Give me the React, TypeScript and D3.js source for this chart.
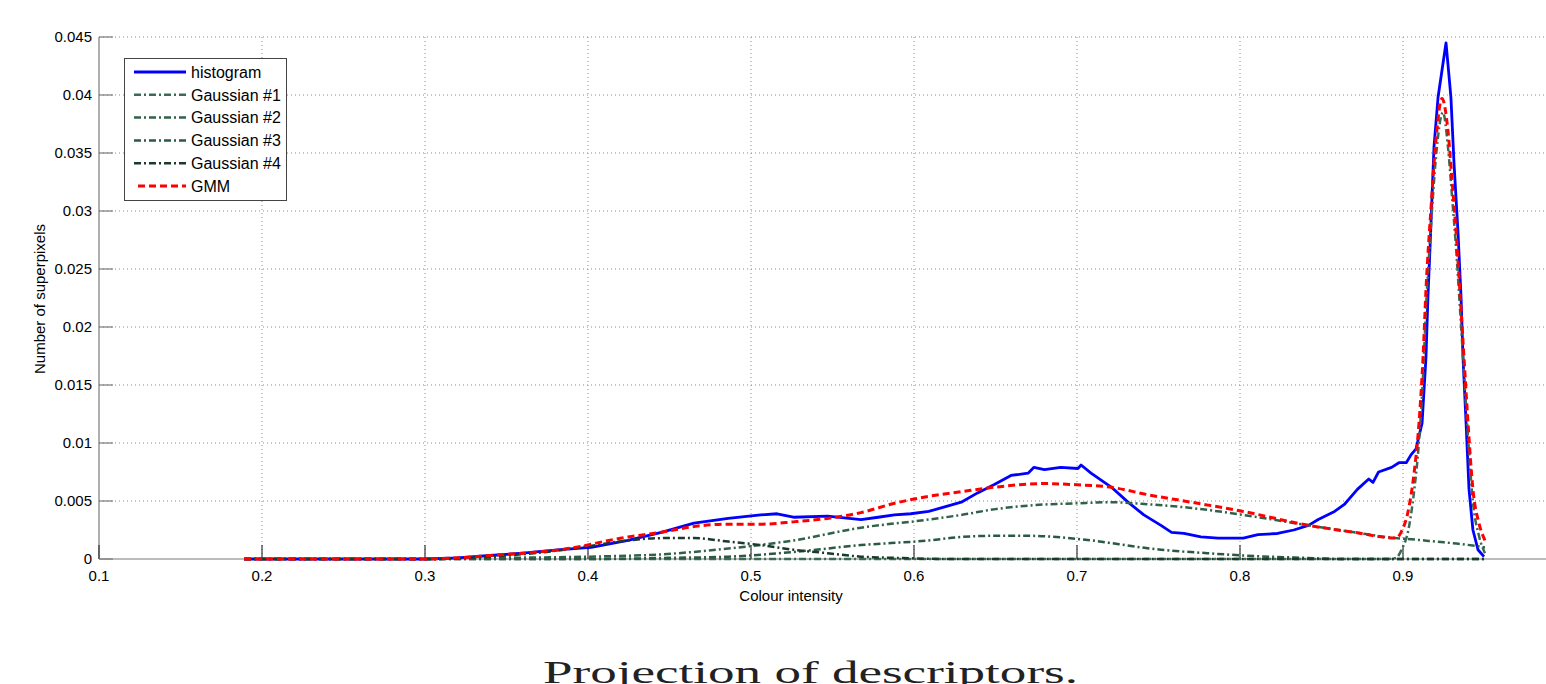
import * as d3 from "d3";
import { useEffect, useRef } from "react";

// colour intensity samples (x) and densities (y)
const histX = [0.189, 0.30, 0.32, 0.34, 0.36, 0.383, 0.402, 0.4245, 0.445, 0.465, 0.486, 0.506, 0.516, 0.526, 0.547, 0.5675, 0.578, 0.588, 0.598, 0.609, 0.629, 0.639, 0.649, 0.6595, 0.670, 0.6736, 0.680, 0.690, 0.7006, 0.7025, 0.7086, 0.721, 0.7313, 0.741, 0.7515, 0.758, 0.7656, 0.776, 0.7865, 0.802, 0.811, 0.823, 0.833, 0.842, 0.848, 0.858, 0.864, 0.872, 0.879, 0.8816, 0.885, 0.893, 0.8975, 0.902, 0.905, 0.908, 0.9117, 0.9141, 0.9153, 0.9166, 0.9178, 0.919, 0.9215, 0.9264, 0.9294, 0.9313, 0.9337, 0.9356, 0.9368, 0.9387, 0.9405, 0.9429, 0.946, 0.9497];
const histY = [0, 0, 0.0001, 0.0003, 0.0005, 0.0008, 0.0010, 0.0016, 0.0023, 0.0031, 0.0035, 0.0038, 0.0039, 0.0036, 0.0037, 0.0034, 0.0036, 0.0038, 0.0039, 0.0041, 0.0049, 0.0057, 0.0064, 0.0072, 0.0074, 0.0079, 0.0077, 0.0079, 0.0078, 0.0081, 0.0074, 0.0062, 0.0049, 0.0038, 0.0029, 0.0023, 0.0022, 0.0019, 0.0018, 0.0018, 0.0021, 0.0022, 0.0025, 0.0029, 0.0034, 0.0041, 0.0047, 0.0060, 0.0069, 0.0066, 0.0075, 0.0079, 0.0083, 0.0083, 0.0090, 0.0095, 0.0117, 0.0174, 0.0226, 0.0269, 0.0312, 0.0355, 0.0398, 0.0445, 0.0398, 0.0341, 0.0283, 0.0226, 0.0174, 0.0117, 0.0060, 0.0025, 0.0008, 0.0002];

// Gaussian #1 - the narrow peak near 0.92
const g1X = [0.189, 0.890, 0.8957, 0.8988, 0.9037, 0.9067, 0.9098, 0.9123, 0.9141, 0.9172, 0.9202, 0.9245, 0.9276, 0.9301, 0.9325, 0.935, 0.9374, 0.9399, 0.9429, 0.9466, 0.9503];
const g1Y = [0, 0, 0.0001, 0.0007, 0.0028, 0.0057, 0.0101, 0.0158, 0.0216, 0.0288, 0.0346, 0.0385, 0.0355, 0.0312, 0.0269, 0.0215, 0.0161, 0.0105, 0.0049, 0.0020, 0.0005];

// Gaussian #2 - broad component around 0.72
const g2X = [0.189, 0.30, 0.35, 0.40, 0.445, 0.486, 0.526, 0.5675, 0.609, 0.629, 0.65, 0.68, 0.70, 0.72, 0.745, 0.77, 0.802, 0.842, 0.87, 0.8957, 0.905, 0.92, 0.935, 0.9503];
const g2Y = [0, 0, 0.0001, 0.0002, 0.0004, 0.0009, 0.0016, 0.0027, 0.0034, 0.0038, 0.0043, 0.0047, 0.0048, 0.0049, 0.0047, 0.0044, 0.0038, 0.0029, 0.0023, 0.0018, 0.0017, 0.0015, 0.0013, 0.0010];

// Gaussian #3 - component around 0.66
const g3X = [0.189, 0.40, 0.45, 0.486, 0.526, 0.5675, 0.609, 0.629, 0.65, 0.67, 0.7025, 0.745, 0.7515, 0.78, 0.802, 0.84, 0.86, 0.9503];
const g3Y = [0, 0, 0.0001, 0.0002, 0.0006, 0.0012, 0.0016, 0.0019, 0.0020, 0.0020, 0.0017, 0.0009, 0.0008, 0.0005, 0.0003, 0.0001, 0, 0];

// Gaussian #4 - component around 0.46
const g4X = [0.189, 0.30, 0.35, 0.38, 0.40, 0.4245, 0.445, 0.465, 0.486, 0.506, 0.526, 0.547, 0.5675, 0.588, 0.62, 0.9503];
const g4Y = [0, 0, 0.0003, 0.0007, 0.0011, 0.0016, 0.0018, 0.0018, 0.0015, 0.0012, 0.0008, 0.0005, 0.0002, 0.0001, 0, 0];

// GMM
const gmmX = [0.189, 0.30, 0.32, 0.34, 0.36, 0.383, 0.4245, 0.445, 0.465, 0.486, 0.506, 0.526, 0.547, 0.5675, 0.588, 0.609, 0.629, 0.65, 0.68, 0.70, 0.72, 0.745, 0.77, 0.802, 0.842, 0.87, 0.8957, 0.8988, 0.9037, 0.9067, 0.9098, 0.9123, 0.9141, 0.9172, 0.9202, 0.9239, 0.9276, 0.9301, 0.9325, 0.935, 0.9374, 0.9399, 0.9429, 0.9466, 0.9503];
const gmmY = [0, 0, 0.0001, 0.0003, 0.0005, 0.0008, 0.0019, 0.0023, 0.0028, 0.0030, 0.0030, 0.0032, 0.0035, 0.0040, 0.0048, 0.0054, 0.0058, 0.0062, 0.0065, 0.0064, 0.0062, 0.0055, 0.0049, 0.0041, 0.0029, 0.0023, 0.0018, 0.0023, 0.0045, 0.0073, 0.0117, 0.0174, 0.0232, 0.0303, 0.0361, 0.0397, 0.0369, 0.0326, 0.0283, 0.0229, 0.0174, 0.0117, 0.0060, 0.0031, 0.0016];

const xTicks = [0.1, 0.2, 0.3, 0.4, 0.5, 0.6, 0.7, 0.8, 0.9];
const yTicks = [0, 0.005, 0.01, 0.015, 0.02, 0.025, 0.03, 0.035, 0.04, 0.045];

const legendNames = ["histogram", "Gaussian #1", "Gaussian #2", "Gaussian #3", "Gaussian #4", "GMM"];

const W = 1546;
const H = 684;
const FONT = "'Liberation Sans', Arial, Helvetica, sans-serif";

function drawChart(svgEl) {
    const svg = d3.select(svgEl);
    svg.selectAll("*").remove();

    const area = { left: 99, bottom: 559, top: 37 };

    const scX = d3.scaleLinear().domain([0.1, 1.0]).range([area.left, area.left + 1630 * 0.9]);
    const scY = d3.scaleLinear().domain([0, 0.045]).range([area.bottom, area.top]);

    svg.append("rect").attr("width", W).attr("height", H).attr("fill", "white");

    // dotted grid
    const grid = svg.append("g")
        .attr("stroke", "#8c8c8c")
        .attr("stroke-width", 1)
        .attr("stroke-dasharray", "1,3");
    xTicks.slice(1).forEach(t => {
        grid.append("line")
            .attr("x1", scX(t)).attr("x2", scX(t))
            .attr("y1", area.top).attr("y2", area.bottom);
    });
    yTicks.slice(1).forEach(t => {
        grid.append("line")
            .attr("x1", area.left).attr("x2", W)
            .attr("y1", scY(t)).attr("y2", scY(t));
    });

    // axes lines + ticks
    const ax = svg.append("g").attr("stroke", "#7a7a7a").attr("stroke-width", 1.2);
    ax.append("line").attr("x1", area.left).attr("x2", W)
        .attr("y1", area.bottom).attr("y2", area.bottom);
    ax.append("line").attr("x1", area.left).attr("x2", area.left)
        .attr("y1", area.top).attr("y2", area.bottom);
    xTicks.forEach(t => {
        ax.append("line")
            .attr("x1", scX(t)).attr("x2", scX(t))
            .attr("y1", area.bottom).attr("y2", area.bottom - 14)
            .attr("stroke", "#333");
    });
    yTicks.forEach(t => {
        ax.append("line")
            .attr("x1", area.left).attr("x2", area.left + 14)
            .attr("y1", scY(t)).attr("y2", scY(t));
    });

    // tick labels
    svg.append("g").selectAll("text")
        .data(xTicks)
        .enter()
        .append("text")
        .attr("x", d => scX(d))
        .attr("y", area.bottom + 22)
        .attr("text-anchor", "middle")
        .style("font-family", FONT)
        .style("font-size", "15px")
        .text(d => String(d));

    svg.append("g").selectAll("text")
        .data(yTicks)
        .enter()
        .append("text")
        .attr("x", area.left - 7)
        .attr("y", d => scY(d))
        .attr("dy", "0.35em")
        .attr("text-anchor", "end")
        .style("font-family", FONT)
        .style("font-size", "15px")
        .text(d => String(d));

    svg.append("text")
        .attr("x", 791).attr("y", 601)
        .attr("text-anchor", "middle")
        .style("font-family", FONT)
        .style("font-size", "15px")
        .text("Colour intensity");

    svg.append("text")
        .attr("transform", "translate(45, 299) rotate(-90)")
        .attr("text-anchor", "middle")
        .style("font-family", FONT)
        .style("font-size", "15px")
        .text("Number of superpixels");

    // series
    const series = [
        { x: histX, y: histY, color: "#0000ff", dash: null, width: 2.8, curve: d3.curveLinear },
        { x: g1X, y: g1Y, color: "#3b6b55", dash: "7,3,2,3", width: 2.5, curve: d3.curveMonotoneX },
        { x: g2X, y: g2Y, color: "#30624a", dash: "7,3,2,3", width: 2.5, curve: d3.curveMonotoneX },
        { x: g3X, y: g3Y, color: "#2b5943", dash: "7,3,2,3", width: 2.5, curve: d3.curveMonotoneX },
        { x: g4X, y: g4Y, color: "#1b3a2a", dash: "7,3,2,3", width: 2.5, curve: d3.curveMonotoneX },
        { x: gmmX, y: gmmY, color: "#ff0000", dash: "7,4", width: 3, curve: d3.curveMonotoneX },
    ];

    series.forEach(s => {
        const pts = s.x.map((v, i) => [v, s.y[i]]);
        const line = d3.line()
            .x(d => scX(d[0]))
            .y(d => scY(d[1]))
            .curve(s.curve);
        svg.append("path")
            .datum(pts)
            .attr("d", line)
            .style("fill", "none")
            .style("stroke", s.color)
            .style("stroke-width", s.width)
            .style("stroke-dasharray", s.dash)
            .style("stroke-linejoin", "round");
    });

    // legend
    const lg = svg.append("g");
    lg.append("rect")
        .attr("x", 124.5).attr("y", 58.5)
        .attr("width", 162).attr("height", 142)
        .attr("fill", "white")
        .attr("stroke", "#444")
        .attr("stroke-width", 1);
    const rowY = d3.scaleLinear().domain([0, 5]).range([72, 186]);
    series.forEach((s, i) => {
        lg.append("line")
            .attr("x1", i === 5 ? 138 : 134).attr("x2", 186)
            .attr("y1", rowY(i)).attr("y2", rowY(i))
            .style("stroke", s.color)
            .style("stroke-width", s.width)
            .style("stroke-dasharray", s.dash);
        lg.append("text")
            .attr("x", 191).attr("y", rowY(i))
            .attr("dy", "0.36em")
            .style("font-family", FONT)
            .style("font-size", "16px")
            .text(legendNames[i]);
    });

    // caption under the figure
    svg.append("text")
        .attr("x", 543).attr("y", 683)
        .attr("textLength", 535)
        .attr("lengthAdjust", "spacingAndGlyphs")
        .style("font-family", "'Liberation Serif', 'DejaVu Serif', serif")
        .style("font-size", "31px")
        .style("fill", "#222")
        .text("Projection of descriptors.");
}

export default function App() {
    const svgRef = useRef(null);

    useEffect(() => {
        drawChart(svgRef.current);
    }, []);

    return (
        <svg
            ref={svgRef}
            width={W}
            height={H}
            style={{ position: "absolute", left: 0, top: 0, display: "block" }}
        ></svg>
    );
}
